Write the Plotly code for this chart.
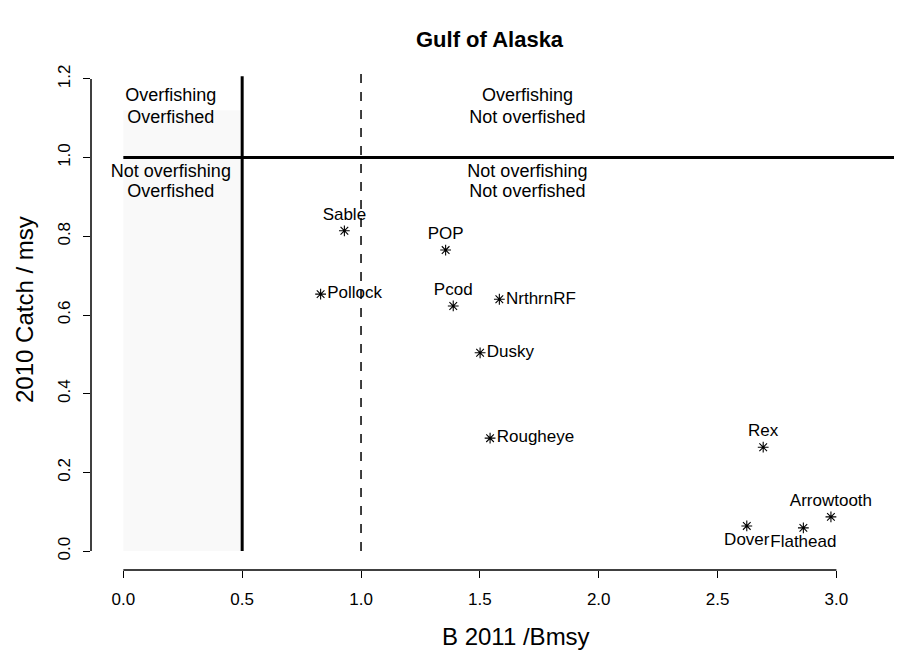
import plotly.graph_objects as go

# Data
species = ["Sable", "POP", "Pollock", "Pcod", "NrthrnRF", "Dusky",
           "Rougheye", "Rex", "Arrowtooth", "Dover", "Flathead"]
b_ratio = [0.930, 1.356, 0.830, 1.388, 1.582, 1.501, 1.543, 2.692, 2.977, 2.623, 2.861]
catch_ratio = [0.814, 0.765, 0.653, 0.623, 0.640, 0.504, 0.287, 0.264, 0.087, 0.064, 0.059]
label_pos = ["top center", "top center", "middle right", "top center", "middle right",
             "middle right", "middle right", "top center", "top center",
             "bottom center", "bottom center"]

x_ticks = [0.0, 0.5, 1.0, 1.5, 2.0, 2.5, 3.0]
x_tick_text = ["0.0", "0.5", "1.0", "1.5", "2.0", "2.5", "3.0"]
y_ticks = [0.0, 0.2, 0.4, 0.6, 0.8, 1.0, 1.2]
y_tick_text = ["0.0", "0.2", "0.4", "0.6", "0.8", "1.0", "1.2"]

b_limit = 0.5
b_target = 1.0
f_limit = 1.0

# quadrant labels, one entry per text line
quad_text = ["Overfishing", "Overfished", "Not overfishing", "Overfished",
             "Overfishing", "Not overfished", "Not overfishing", "Not overfished"]
quad_x = [0.2, 0.2, 0.2, 0.2, 1.70, 1.70, 1.70, 1.70]
quad_y = [1.154, 1.100, 0.961, 0.911, 1.154, 1.100, 0.961, 0.911]

FONT = "Liberation Sans, Arial, sans-serif"

# page body has an 8px default margin, so the figure is drawn at (8, 8) on screen
OFF = 8
PL, PT, PW, PH = 91, 60, 811, 510          # plot area in screen pixels


def px(sx):
    return (sx - PL) / PW


def py(sy):
    return (PT + PH - sy) / PH


fig = go.Figure()

fig.add_trace(go.Scatter(
    x=b_ratio, y=catch_ratio, mode="markers+text",
    text=species, textposition=label_pos,
    textfont=dict(family=FONT, size=17, color="black"),
    marker=dict(symbol="asterisk-open", size=9, color="black",
                line=dict(color="black", width=1.1)),
    showlegend=False, cliponaxis=False,
))

fig.add_trace(go.Scatter(
    x=quad_x, y=quad_y, mode="text", text=quad_text,
    textfont=dict(family=FONT, size=18, color="black"),
    showlegend=False, hoverinfo="skip",
))

x_range = [-0.136, 3.276]
y_range = [-0.048, 1.248]

shapes = [
    # faint shading of overfished zone
    dict(type="rect", xref="x", yref="y", x0=0, x1=b_limit, y0=0, y1=1.12,
         fillcolor="rgba(0,0,0,0.022)", line=dict(width=0), layer="below"),
    # reference lines
    dict(type="line", xref="x", yref="y", x0=b_limit, x1=b_limit, y0=0, y1=1.207,
         line=dict(color="black", width=3)),
    dict(type="line", xref="x", yref="y", x0=b_target, x1=b_target, y0=0, y1=1.22,
         line=dict(color="black", width=1.5, dash="dash")),
    dict(type="line", xref="x", yref="y", x0=0, x1=x_range[1], y0=f_limit, y1=f_limit,
         line=dict(color="black", width=3)),
    # R-style axis lines
    dict(type="line", xref="x", yref="paper", x0=x_ticks[0], x1=x_ticks[-1], y0=0, y1=0,
         line=dict(color="black", width=1.5)),
    dict(type="line", xref="paper", yref="y", x0=0, x1=0, y0=y_ticks[0], y1=y_ticks[-1],
         line=dict(color="black", width=1.5)),
]

fig.update_layout(
    width=902, height=652,
    margin=dict(l=PL - OFF, r=902 - (PL - OFF) - PW, t=PT - OFF,
                b=652 - (PT - OFF) - PH, autoexpand=False),
    paper_bgcolor="white", plot_bgcolor="white",
    font=dict(family=FONT, color="black"),
    shapes=shapes,
    xaxis=dict(range=x_range, tickvals=x_ticks, ticktext=x_tick_text,
               showgrid=False, zeroline=False, showline=False, automargin=False,
               ticks="outside", ticklen=7, tickwidth=1.2, tickcolor="black",
               ticklabelstandoff=7,
               tickfont=dict(family=FONT, size=17, color="black")),
    yaxis=dict(range=y_range, tickvals=y_ticks, ticktext=y_tick_text,
               showgrid=False, zeroline=False, showline=False, automargin=False,
               ticks="outside", ticklen=7, tickwidth=1.2, tickcolor="black",
               tickangle=-90, ticklabelstandoff=6,
               tickfont=dict(family=FONT, size=17, color="black")),
    annotations=[
        dict(text="<b>Gulf of Alaska</b>", xref="paper", yref="paper",
             x=px(490), y=py(40), xanchor="center", yanchor="middle", showarrow=False,
             font=dict(family=FONT, size=22, color="black")),
        dict(text="B 2011 /Bmsy", xref="paper", yref="paper",
             x=px(516), y=py(636), xanchor="center", yanchor="middle", showarrow=False,
             font=dict(family=FONT, size=24, color="black")),
        dict(text="2010 Catch / msy", xref="paper", yref="paper",
             x=px(24), y=py(310), xanchor="center", yanchor="middle", showarrow=False,
             textangle=-90,
             font=dict(family=FONT, size=24, color="black")),
    ],
)

fig.write_html("out.html")
